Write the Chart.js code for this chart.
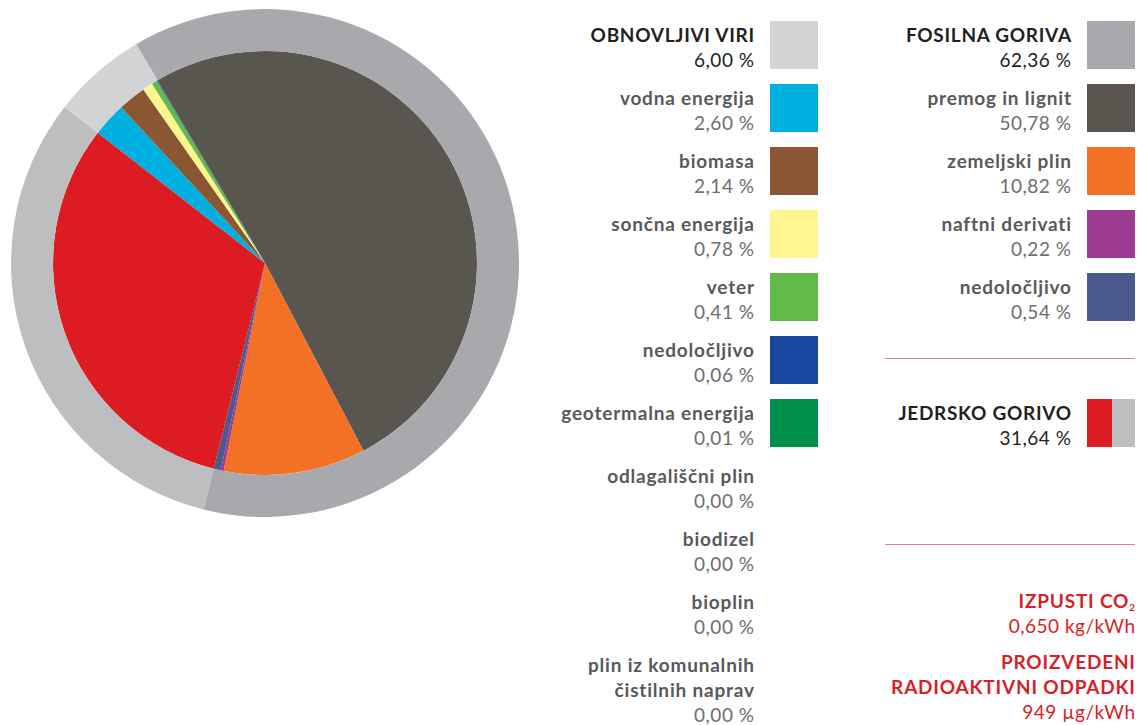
<!DOCTYPE html>
<html>
<head>
<meta charset="utf-8">
<script src="https://cdn.jsdelivr.net/npm/chart.js@4/dist/chart.umd.min.js"></script>
<style>
  html, body { margin: 0; padding: 0; background: #fff; }
  body { width: 1138px; height: 725px; position: relative; overflow: hidden; font-family: Lato, "Open Sans", sans-serif; }
  #chartBox { position: absolute; left: 11px; top: 9px; width: 508px; height: 508px; }
  .row { position: absolute; text-align: right; font-size: 19px; line-height: 25px; white-space: nowrap; }
  .row .name { font-weight: 700; color: #58595b; letter-spacing: 0.8px; margin-right: -0.8px; }
  .row .val { font-weight: 400; color: #6d6e71; letter-spacing: 0.5px; margin-right: -0.5px; }
  .row.head .name { color: #231f20; letter-spacing: 0.7px; }
  .row.head .val { color: #231f20; }
  .row.red .name, .row.red .val { color: #d71f27; }
  .swatch { position: absolute; width: 48px; height: 48px; }
  .rule { position: absolute; height: 0; border-top: 1.5px solid #ea7d83; }
  sub { font-size: 10px; vertical-align: -3px; line-height: 0; }
</style>
</head>
<body>
<div id="chartBox"><canvas id="chart"></canvas></div>
<div id="legend"></div>
<script>
// outer ring: main groups
const groupLabels = ['FOSILNA GORIVA', 'JEDRSKO GORIVO', 'OBNOVLJIVI VIRI'];
const groupValues = [62.36, 31.64, 6.00];
const groupColors = ['#a7a9ac', '#bcbec0', '#d1d3d4'];

// inner pie: single sources, same order round the circle
const sourceLabels = ['premog in lignit', 'zemeljski plin', 'naftni derivati', 'nedoločljivo',
    'jedrsko gorivo',
    'vodna energija', 'biomasa', 'sončna energija', 'veter', 'nedoločljivo', 'geotermalna energija'];
const sourceValues = [50.78, 10.82, 0.22, 0.54, 31.64, 2.60, 2.14, 0.78, 0.41, 0.06, 0.01];
const sourceColors = ['#59554f', '#f37124', '#9d3a92', '#4a5a8c',
    '#dc1b23',
    '#00b0e1', '#8b5733', '#fff68f', '#62bb46', '#17479e', '#00904b'];

// legend, left column (renewables)
const renewableNames = ['OBNOVLJIVI VIRI', 'vodna energija', 'biomasa', 'sončna energija', 'veter',
    'nedoločljivo', 'geotermalna energija', 'odlagališčni plin', 'biodizel', 'bioplin',
    'plin iz komunalnih<br>čistilnih naprav'];
const renewableValues = [6.00, 2.60, 2.14, 0.78, 0.41, 0.06, 0.01, 0.00, 0.00, 0.00, 0.00];
const renewableColors = ['#d1d3d4', '#00b0e1', '#8b5733', '#fff68f', '#62bb46', '#17479e', '#00904b',
    null, null, null, null];

// legend, right column (fossil)
const fossilNames = ['FOSILNA GORIVA', 'premog in lignit', 'zemeljski plin', 'naftni derivati', 'nedoločljivo'];
const fossilValues = [62.36, 50.78, 10.82, 0.22, 0.54];
const fossilColors = ['#a7a9ac', '#59554f', '#f37124', '#9d3a92', '#4a5a8c'];

const nuclearName = 'JEDRSKO GORIVO';
const nuclearValue = 31.64;

const co2Value = '0,650 kg/kWh';
const wasteValue = '949 µg/kWh';

function pct(v) {
    return v.toFixed(2).replace('.', ',') + ' %';
}

const legend = document.getElementById('legend');

function addRow(textRight, top, name, value, cls) {
    const d = document.createElement('div');
    d.className = 'row ' + (cls || '');
    d.style.right = (1138 - textRight) + 'px';
    d.style.top = top + 'px';
    d.innerHTML = '<div class="name">' + name + '</div><div class="val">' + value + '</div>';
    legend.appendChild(d);
}

function addSwatch(left, top, color, width) {
    const s = document.createElement('div');
    s.className = 'swatch';
    s.style.left = left + 'px';
    s.style.top = top + 'px';
    s.style.background = color;
    if (width) s.style.width = width + 'px';
    legend.appendChild(s);
}

function addRule(left, right, top) {
    const r = document.createElement('div');
    r.className = 'rule';
    r.style.left = left + 'px';
    r.style.width = (right - left) + 'px';
    r.style.top = top + 'px';
    legend.appendChild(r);
}

const rowStep = 63;
const firstRow = 21;

renewableNames.forEach((n, i) => {
    const top = firstRow + i * rowStep;
    addRow(754, top + 1, n, pct(renewableValues[i]), i === 0 ? 'head' : '');
    if (renewableColors[i]) addSwatch(770, top, renewableColors[i]);
});

fossilNames.forEach((n, i) => {
    const top = firstRow + i * rowStep;
    addRow(1071, top + 1, n, pct(fossilValues[i]), i === 0 ? 'head' : '');
    addSwatch(1087, top, fossilColors[i]);
});

addRule(885, 1135, 358);

const nucTop = firstRow + 6 * rowStep;
addRow(1071, nucTop + 1, nuclearName, pct(nuclearValue), 'head');
addSwatch(1087, nucTop, sourceColors[4], 25);
addSwatch(1112, nucTop, groupColors[1], 23);

addRule(885, 1135, 544);

addRow(1135, 588, 'IZPUSTI CO<sub>2</sub>', co2Value, 'red');
addRow(1135, 649, 'PROIZVEDENI<br>RADIOAKTIVNI ODPADKI', wasteValue, 'red');

const ctx = document.getElementById('chart').getContext('2d');
const chart = new Chart(ctx, {
    type: 'pie',
    data: {
        labels: sourceLabels,
        datasets: [{
            label: 'skupine',
            data: groupValues,
            backgroundColor: groupColors,
            borderWidth: 0,
            weight: 42
        }, {
            label: 'viri',
            data: sourceValues,
            backgroundColor: sourceColors,
            borderWidth: 0,
            weight: 212
        }]
    },
    options: {
        responsive: true,
        maintainAspectRatio: false,
        animation: false,
        rotation: -30.5,
        layout: { padding: 0 },
        plugins: {
            legend: { display: false },
            tooltip: { enabled: false }
        }
    }
});
</script>
</body>
</html>
